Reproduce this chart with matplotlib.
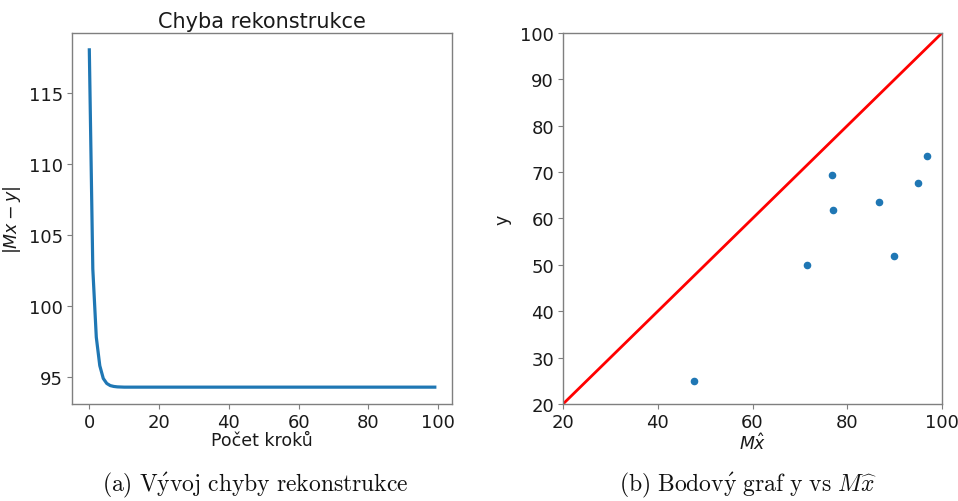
import numpy as np
import matplotlib
matplotlib.use("Agg")
import matplotlib.pyplot as plt

# reconstruction error per iteration
error_head = [118.0, 102.6, 97.8, 95.8, 94.9, 94.55, 94.4, 94.34, 94.31, 94.3]
error_tail = [94.29] * 90
error = error_head + error_tail
steps = np.arange(len(error))

# y against M x_hat
mx_hat = [47.6, 71.6, 76.7, 76.9, 86.8, 89.9, 94.9, 96.8]
y_obs = [25.0, 50.0, 69.4, 61.8, 63.6, 51.9, 67.7, 73.5]
ref_line = [20, 100]

text_col = "#1a1a1a"
spine_col = "#7f7f7f"
plt.rcParams["font.size"] = 13
plt.rcParams["text.color"] = text_col
plt.rcParams["axes.labelcolor"] = text_col
plt.rcParams["xtick.color"] = spine_col
plt.rcParams["ytick.color"] = spine_col
plt.rcParams["xtick.labelcolor"] = text_col
plt.rcParams["ytick.labelcolor"] = text_col
plt.rcParams["axes.edgecolor"] = spine_col

fig = plt.figure(figsize=(9.58, 5.02), dpi=100)
ax1 = fig.add_axes([0.0752, 0.1932, 0.3967, 0.7391])
ax2 = fig.add_axes([0.5877, 0.1932, 0.3956, 0.7391])

ax1.plot(steps, error, color="#1f77b4", lw=2.3)
ax1.set_title("Chyba rekonstrukce", fontsize=15, pad=4)
ax1.set_xlabel("Počet kroků", fontsize=12.5, labelpad=0)
ax1.set_ylabel("$|Mx - y|$", fontsize=12.5, labelpad=4)
ax1.set_yticks([95, 100, 105, 110, 115])
ax1.set_xticks([0, 20, 40, 60, 80, 100])

ax2.plot(ref_line, ref_line, color="red", lw=2)
ax2.scatter(mx_hat, y_obs, s=20, color="#1f77b4", zorder=3)
ax2.set_xlim(20, 100)
ax2.set_ylim(20, 100)
ax2.set_xlabel(r"$M\hat{x}$", fontsize=12.5, labelpad=1)
ax2.set_ylabel("y", fontsize=12.5, labelpad=6)

for ax in (ax1, ax2):
    ax.tick_params(length=3.5, width=0.8, labelsize=13, pad=3)
    for sp in ax.spines.values():
        sp.set_linewidth(1.0)

fig.text(0.266, 0.022, r"$\mathrm{(a)\ V\acute{y}voj\ chyby\ rekonstrukce}$",
         ha="center", va="baseline", fontsize=17, math_fontfamily="cm",
         color="#111111")
fig.text(0.781, 0.022, r"$\mathrm{(b)\ Bodov\acute{y}\ graf\ y\ vs}\ M\widehat{x}$",
         ha="center", va="baseline", fontsize=17, math_fontfamily="cm",
         color="#111111")

fig.savefig("out.png", dpi=100)
